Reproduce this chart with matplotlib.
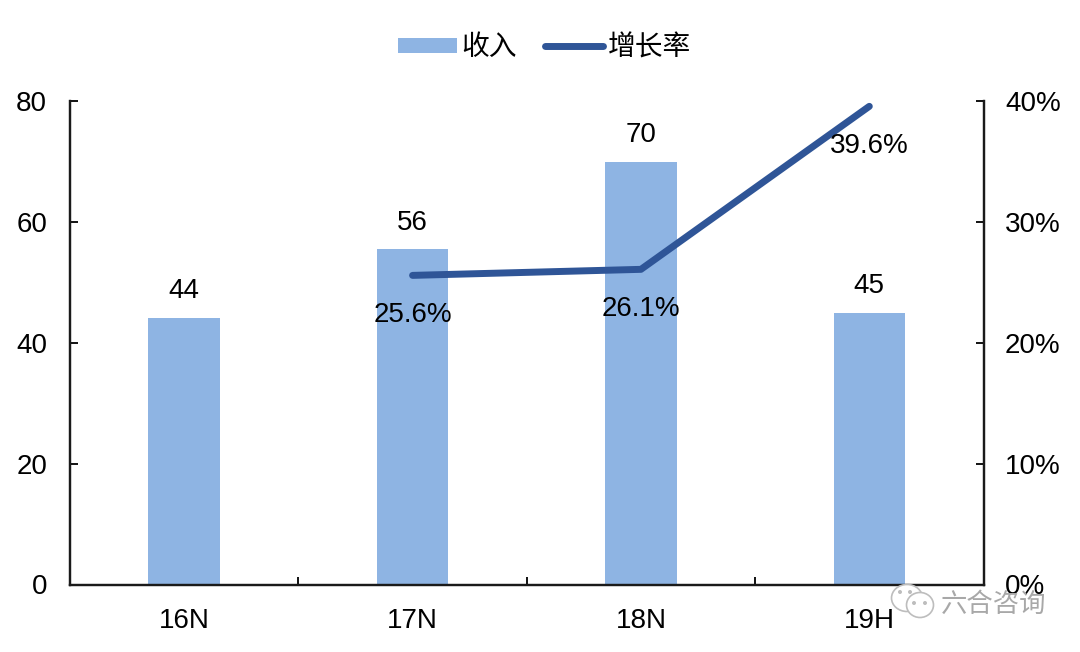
import matplotlib
matplotlib.use("Agg")
from matplotlib import pyplot as plt
from matplotlib.patches import Ellipse
import numpy as np

categories = ["16N", "17N", "18N", "19H"]
revenue = [44.2, 55.5, 70, 45]
revenue_labels = ["44", "56", "70", "45"]
growth = [25.6, 26.1, 39.6]
growth_labels = ["25.6%", "26.1%", "39.6%"]
growth_cats = [1, 2, 3]

plt.rcParams['font.family'] = ['Liberation Sans', 'Noto Sans CJK SC', 'DejaVu Sans']

W, H = 1080, 652
FS = 20
fig = plt.figure(figsize=(W / 100, H / 100), dpi=100)
ax = fig.add_axes([70 / W, 1 - 584.5 / H, 913.5 / W, 483 / H])
x = np.arange(len(categories))

bars = ax.bar(x, revenue, width=0.313, color="#8eb4e3", label="收入")
ax.set_xlim(-0.5, 3.5)
ax.set_ylim(0, 80)
ax.set_yticks([0, 20, 40, 60, 80])
ax.set_xticks(x)
ax.set_xticklabels(categories)
ax.set_xticks(np.arange(-0.5, 4), minor=True)
ax.tick_params(axis="x", which="major", length=0, labelsize=FS, pad=17)
ax.tick_params(axis="x", which="minor", length=6, width=1.3, direction="in")
ax.tick_params(axis="y", length=6, width=1.3, direction="in", labelsize=FS, pad=16.5)
ax.spines["top"].set_visible(False)
for s in ["left", "right", "bottom"]:
    ax.spines[s].set_linewidth(1.6)
    ax.spines[s].set_color("#1a1a1a")

ax2 = ax.twinx()
ax2.set_position(ax.get_position())
line, = ax2.plot(growth_cats, growth, color="#2f5597", lw=5,
                 solid_capstyle="round", label="增长率")
ax2.set_ylim(0, 40)
ax2.set_yticks([0, 10, 20, 30, 40])
ax2.set_yticklabels(["0%", "10%", "20%", "30%", "40%"])
ax2.tick_params(axis="y", length=6, width=1.3, direction="in", labelsize=FS, pad=15.5)
ax2.spines["top"].set_visible(False)
for s in ["left", "right", "bottom"]:
    ax2.spines[s].set_linewidth(1.6)
    ax2.spines[s].set_color("#1a1a1a")

for xi, v, t in zip(x, revenue, revenue_labels):
    ax.annotate(t, (xi, v), xytext=(0, 10), textcoords="offset points",
                ha="center", va="bottom", fontsize=FS, color="black")
for xi, v, t in zip(growth_cats, growth, growth_labels):
    ax2.annotate(t, (xi, v), xytext=(0, -19.5), textcoords="offset points",
                 ha="center", va="top", fontsize=FS, color="black")

fig.legend([bars, line], ["收入", "增长率"], loc="center",
           bbox_to_anchor=(544.5 / W, 1 - 48 / H), ncol=2, frameon=False,
           fontsize=20, handlelength=2.1, handleheight=0.48, handletextpad=0.17,
           columnspacing=1.0, borderpad=0)

# watermark
grey = "#bdbdbd"
for cx, cy, w, h in [(907, 598, 31, 27), (920, 605, 27, 25)]:
    fig.add_artist(Ellipse((cx / W, 1 - cy / H), w / W, h / H, transform=fig.transFigure,
                           facecolor="white", edgecolor=grey, lw=1.2))
for cx, cy in [(900, 592), (910, 592), (914, 603), (925, 603)]:
    fig.add_artist(Ellipse((cx / W, 1 - cy / H), 4 / W, 4 / H, transform=fig.transFigure,
                           facecolor=grey, edgecolor="none"))
fig.text(941 / W, 1 - 605 / H, "六合咨询", fontsize=19, color="#a8a8a8",
         ha="left", va="center")

fig.savefig("out.png", dpi=100)
